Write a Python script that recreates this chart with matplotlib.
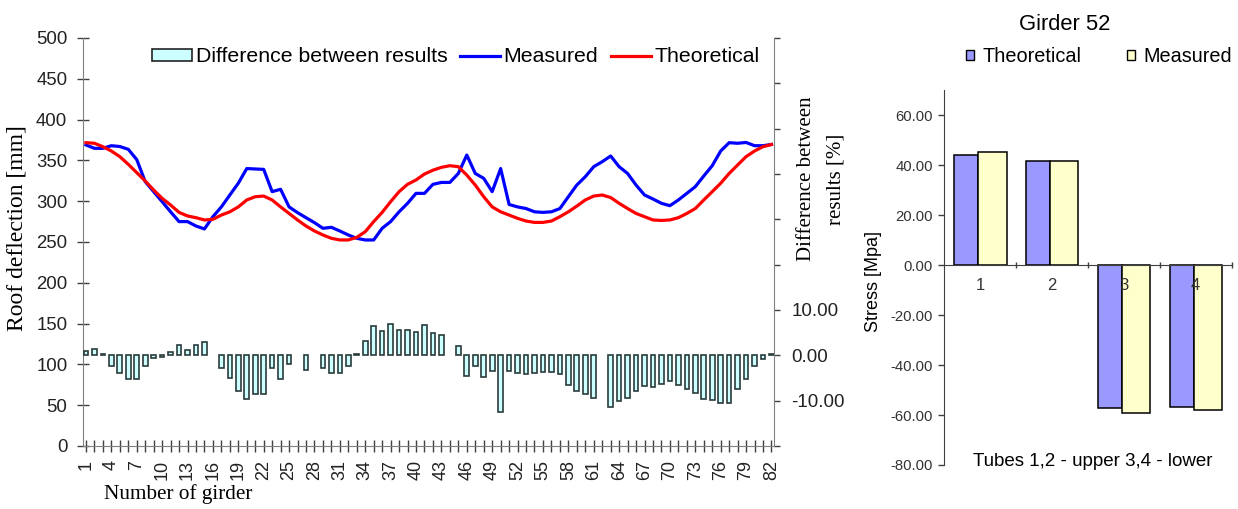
import numpy as np
import matplotlib
matplotlib.use("Agg")
import matplotlib.pyplot as plt
from matplotlib.patches import Patch
from matplotlib.lines import Line2D

plt.rcParams["font.family"] = ["Liberation Sans", "DejaVu Sans"]

# =========================
# 1. DATA
# =========================
girders = np.arange(1, 83)

measured = [368.9, 364.8, 364.8, 368.0, 367.0, 363.6, 351.0, 324.0, 311.7, 299.4,
            287.0, 275.0, 275.0, 269.6, 266.0, 281.0, 293.0, 307.6, 322.0, 340.0,
            339.5, 339.0, 311.7, 314.6, 293.0, 286.0, 279.8, 273.7, 266.8, 268.0,
            263.5, 258.6, 254.5, 252.5, 252.5, 266.8, 275.0, 287.0, 297.4, 309.6,
            309.6, 320.7, 323.0, 323.0, 334.0, 356.6, 334.0, 328.0, 311.7, 340.0,
            296.0, 293.0, 291.0, 287.0, 286.3, 287.0, 291.0, 305.5, 319.8, 330.0,
            342.3, 348.4, 355.4, 342.3, 334.0, 319.8, 307.6, 302.7, 297.4, 294.5,
            301.5, 309.6, 317.8, 330.9, 343.5, 361.5, 371.7, 371.0, 372.0, 368.0,
            368.0, 369.5]

theoretical = [371.7, 371.0, 366.8, 361.5, 354.6, 345.2, 335.0, 324.8, 313.7, 303.5,
               295.3, 286.3, 281.9, 279.8, 277.0, 277.8, 283.0, 287.0, 293.0, 301.5,
               305.5, 306.3, 301.5, 293.0, 285.0, 277.0, 269.6, 263.5, 258.6, 254.5,
               252.5, 252.5, 255.7, 262.6, 275.0, 286.3, 299.4, 311.7, 320.7, 326.0,
               333.3, 338.0, 341.5, 343.5, 342.3, 332.0, 319.8, 305.5, 293.0, 287.0,
               283.0, 279.0, 275.7, 274.0, 274.0, 275.7, 281.0, 287.0, 294.0, 301.5,
               306.3, 307.6, 304.5, 297.4, 291.0, 285.0, 281.0, 277.0, 276.4, 277.0,
               279.8, 285.0, 291.0, 301.5, 311.7, 322.0, 334.0, 344.4, 354.6, 361.5,
               366.8, 369.5]

# difference between results [%], nan = no bar drawn
difference = [1.0, 1.4, 0.2, -2.3, -3.9, -5.3, -5.3, -2.4, -0.6, -0.3,
              0.7, 2.3, 1.1, 2.3, 2.9, np.nan, -2.8, -5.0, -7.8, -9.6,
              -8.5, -8.5, -2.8, -5.3, -1.9, np.nan, -3.3, np.nan, -2.8, -3.9,
              -3.9, -2.4, 0.2, 3.1, 6.4, 5.3, 7.0, 5.5, 5.5, 5.1,
              6.7, 4.9, 4.5, np.nan, 2.0, -4.6, -2.4, -4.8, -3.5, -12.5,
              -3.5, -3.9, -4.2, -4.0, -3.7, -3.7, -4.2, -6.6, -7.8, -8.5,
              -9.5, np.nan, -11.4, -10.0, -9.5, -7.8, -6.7, -7.0, -6.3, -5.6,
              -6.5, -7.5, -8.3, -9.7, -9.9, -10.6, -10.5, -7.5, -5.2, -2.4,
              -0.7, 0.3]

tubes = ["1", "2", "3", "4"]
stress_theoretical = [44.3, 41.9, -57.0, -56.7]
stress_measured = [45.2, 41.9, -59.3, -58.1]

# =========================
# 2. FIGURE
# =========================
W, H = 1238, 509
fig = plt.figure(figsize=(W / 100, H / 100), dpi=100)


def box(x0, y0, x1, y1):
    # pixel box (top-left origin) -> figure fraction
    return [x0 / W, 1 - y1 / H, (x1 - x0) / W, (y1 - y0) / H]


grey = "#808080"

# =========================
# 3. ROOF DEFLECTION CHART
# =========================
ax = fig.add_axes(box(83, 38, 774, 446))
ax.plot(girders, measured, color="#0000ff", lw=2.3)
ax.plot(girders, theoretical, color="#ff0000", lw=2.3)
ax.set_xlim(0.65, 82.3)
ax.set_ylim(0, 500)
ax.set_yticks(range(0, 501, 50))
ax.set_xticks(girders)
ax.set_xticklabels([str(g) if (g - 1) % 3 == 0 else "" for g in girders], rotation=90)
ax.tick_params(axis="x", direction="inout", length=8.5, width=1, color="#404040",
               labelsize=13, pad=6, labelcolor="#222222")
ax.tick_params(axis="y", direction="inout", length=8.5, width=1, color="#404040",
               labelsize=13.4, pad=7, labelcolor="#222222")
for s in ["top", "right"]:
    ax.spines[s].set_visible(False)
for s in ["left", "bottom"]:
    ax.spines[s].set_color(grey)

ax_r = ax.twinx()
diff = np.array(difference)
mask = ~np.isnan(diff)
ax_r.bar(girders[mask], diff[mask], width=0.55, color="#ccffff",
         edgecolor="#2b3b3b", lw=1.2)
ax_r.set_ylim(-20, 70)
ax_r.set_yticks(range(-20, 71, 10))
ax_r.set_yticklabels([f"{v:.2f}" if -10 <= v <= 10 else "" for v in range(-20, 71, 10)])
ax_r.tick_params(axis="y", direction="out", length=4.5, width=1, color="#404040",
                 labelsize=13.6, pad=8, labelcolor="#222222")
for s in ["top", "left", "bottom"]:
    ax_r.spines[s].set_visible(False)
ax_r.spines["right"].set_color(grey)

handles = [Patch(facecolor="#ccffff", edgecolor="#222222", lw=1.2),
           Line2D([], [], color="#0000ff", lw=2.3),
           Line2D([], [], color="#ff0000", lw=2.3)]
fig.legend(handles, ["Difference between results", "Measured", "Theoretical"],
           loc="center left", bbox_to_anchor=(152 / W, 1 - 57 / H), ncol=3,
           frameon=False, fontsize=15.3, handlelength=1.9, handleheight=0.5,
           handletextpad=0.15, columnspacing=0.6, borderpad=0, borderaxespad=0)

fig.text(17 / W, 1 - 228 / H, "Roof deflection [mm]", rotation=90, ha="center",
         va="center", family="Liberation Serif", fontsize=17)
fig.text(104 / W, 1 - 494 / H, "Number of girder", ha="left", va="center",
         family="Liberation Serif", fontsize=15.3)
fig.text(821 / W, 1 - 179 / H, "Difference between\nresults [%]", rotation=90,
         ha="center", va="center", multialignment="center",
         family="Liberation Serif", fontsize=15, linespacing=1.75)

# =========================
# 4. GIRDER 52 STRESS CHART
# =========================
ax2 = fig.add_axes(box(944, 90.5, 1231.7, 465))
x = np.arange(1, len(tubes) + 1)
ax2.bar(x - 0.36, stress_theoretical, width=0.335, align="edge",
        color="#9999ff", edgecolor="black", lw=1.1)
ax2.bar(x - 0.025, stress_measured, width=0.395, align="edge",
        color="#ffffcc", edgecolor="black", lw=1.1)
ax2.set_xlim(0.5, 4.5)
ax2.set_ylim(-80, 70)
ax2.set_yticks(range(-80, 61, 20))
ax2.set_yticklabels([f"{v:.2f}" for v in range(-80, 61, 20)])
ax2.tick_params(axis="y", direction="out", length=4, width=1, color="#404040",
                labelsize=10.7, pad=4, labelcolor="#333333")
ax2.set_xticks([1.5, 2.5, 3.5, 4.5])
ax2.set_xticklabels([])
ax2.tick_params(axis="x", direction="inout", length=5, width=1, color="#404040")
ax2.spines["top"].set_visible(False)
ax2.spines["right"].set_visible(False)
ax2.spines["bottom"].set_position(("data", 0))
ax2.spines["bottom"].set_color("#404040")
ax2.spines["left"].set_color("#404040")
for i, t in zip(x, tubes):
    ax2.text(i, -8, t, ha="center", va="center", fontsize=12, color="#333333")

handles2 = [Patch(facecolor="#9999ff", edgecolor="black", lw=1),
            Patch(facecolor="#ffffcc", edgecolor="black", lw=1)]
fig.legend(handles2, ["Theoretical", "Measured"], loc="center left",
           bbox_to_anchor=(966 / W, 1 - 57 / H), ncol=2, frameon=False,
           fontsize=14.3, handlelength=0.4, handleheight=0.4, handletextpad=0.44,
           columnspacing=2.26, borderpad=0, borderaxespad=0)

fig.text(1065 / W, 1 - 24 / H, "Girder 52", ha="center", va="center", fontsize=15.8)
fig.text(873 / W, 1 - 281 / H, "Stress [Mpa]", rotation=90, ha="center",
         va="center", fontsize=13)
fig.text(1093 / W, 1 - 462 / H, "Tubes 1,2 - upper 3,4 - lower", ha="center",
         va="center", fontsize=13.5)

fig.savefig("out.png", dpi=100)
